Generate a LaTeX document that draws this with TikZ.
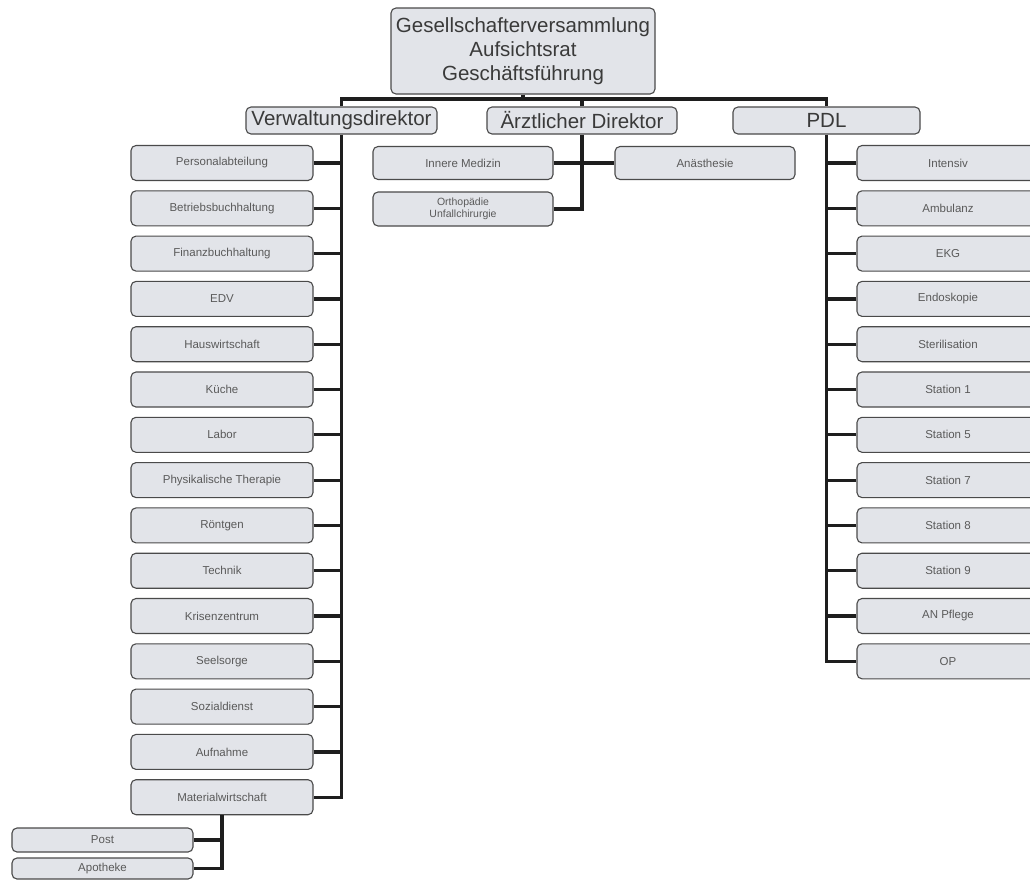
\documentclass[tikz,border=0pt]{standalone}
\usepackage{fontspec}
\setmainfont{Liberation Sans}
\definecolor{boxfill}{HTML}{E2E4E9}
\definecolor{boxline}{HTML}{4A4A4A}
\definecolor{trunk}{HTML}{1E1E1E}
\definecolor{textgray}{HTML}{5A5A5A}
\definecolor{textdark}{HTML}{3A3A3A}
\begin{document}
\begin{tikzpicture}[x=1pt,y=-1pt,
  box/.style={draw=boxline, fill=boxfill, rounded corners=5pt, line width=1.1pt, inner sep=0pt},
  head/.style={box, font=\fontsize{20.5}{24}\selectfont, text=textdark, minimum height=27pt},
  unit/.style={box, font=\fontsize{11.5}{12.5}\selectfont, text=textgray, minimum width=182pt, minimum height=35pt, align=center},
  small/.style={box, font=\fontsize{11.5}{12.5}\selectfont, text=textgray, minimum width=181pt, align=center},
  conn/.style={draw=trunk, line width=3.2pt},
]
\useasboundingbox (0,0) rectangle (1030,879);
\clip (0,0) rectangle (1030,879);
\fill[white] (0,0) rectangle (1030,879);

% top
\node[box, font=\fontsize{20.5}{24}\selectfont, text=textdark, minimum width=264pt, minimum height=86pt, align=center] (top) at (523,51)
  {Gesellschafterversammlung\\Aufsichtsrat\\Geschäftsführung};

% second row
\node[head, minimum width=191pt] (vd) at (341.5,120.5) {Verwaltungsdirektor};
\node[head, minimum width=190pt] (ad) at (582,120.5) {Ärztlicher Direktor};
\node[head, minimum width=187pt] (pdl) at (826.5,120.5) {PDL};

% left column
\foreach \t [count=\i] in {Personalabteilung,Betriebsbuchhaltung,Finanzbuchhaltung,EDV,Hauswirtschaft,Küche,Labor,Physikalische Therapie,Röntgen,Technik,Krisenzentrum,Seelsorge,Sozialdienst,Aufnahme,Materialwirtschaft}
  \node[unit] (l\i) at (222,{163+45.3*(\i-1)}) {\t};

% right column
\foreach \t [count=\i] in {Intensiv,Ambulanz,EKG,Endoskopie,Sterilisation,Station 1,Station 5,Station 7,Station 8,Station 9,AN Pflege,OP}
  \node[unit] (r\i) at (948,{163+45.3*(\i-1)}) {\t};

% middle
\node[unit, minimum width=180pt, minimum height=33pt] (inn) at (463,163) {Innere Medizin};
\node[unit, minimum width=180pt, minimum height=34pt, font=\fontsize{10.5}{11.5}\selectfont] (orth) at (463,209) {Orthopädie\\Unfallchirurgie};
\node[unit, minimum width=180pt, minimum height=33pt] (ana) at (705,163) {Anästhesie};

% bottom left
\node[small, minimum height=24pt] (post) at (102.5,840) {Post};
\node[small, minimum height=21pt] (apo) at (102.5,868.5) {Apotheke};

% connectors
\coordinate (bar) at (0,99);
\draw[conn] (vd.north) -- (vd.north |- bar) -- (pdl.north |- bar) -- (pdl.north);
\draw[conn] (ad.north) -- (ad.north |- bar);
\draw[conn] (top.south) -- (top.south |- bar);

\draw[conn] (vd.south) |- (l15.east);
\foreach \i in {1,...,14} \draw[conn] (l\i.east) -- (l\i.east -| vd.south);

\draw[conn] (pdl.south) |- (r12.west);
\foreach \i in {1,...,11} \draw[conn] (r\i.west) -- (r\i.west -| pdl.south);

\draw[conn] (ad.south) |- (orth.east);
\draw[conn] (inn.east) -- (ana.west);

\draw[conn] (l15.south) |- (apo.east);
\draw[conn] (post.east) -- (post.east -| l15.south);
\end{tikzpicture}
\end{document}
